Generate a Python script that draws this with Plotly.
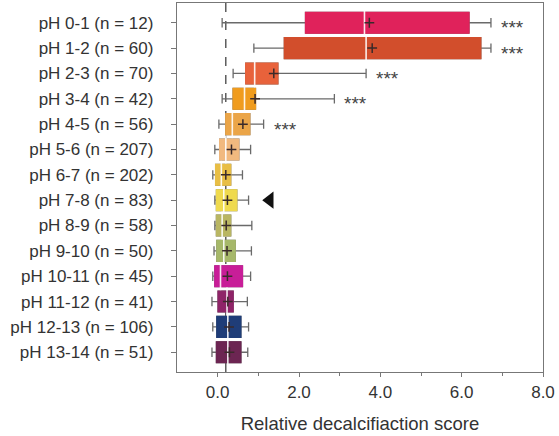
import plotly.graph_objects as go

# Box statistics per pH class (relative decalcification score)
labels = ["pH 0-1 (n = 12)", "pH 1-2 (n = 60)", "pH 2-3 (n = 70)", "pH 3-4 (n = 42)",
          "pH 4-5 (n = 56)", "pH 5-6 (n = 207)", "pH 6-7 (n = 202)", "pH 7-8 (n = 83)",
          "pH 8-9 (n = 58)", "pH 9-10 (n = 50)", "pH 10-11 (n = 45)", "pH 11-12 (n = 41)",
          "pH 12-13 (n = 106)", "pH 13-14 (n = 51)"]
lower = [0.11, 0.89, 0.38, 0.11, 0.03, -0.07, -0.12, -0.07, -0.07, -0.09, -0.12, -0.14, -0.12, -0.14]
q1 = [2.16, 1.64, 0.69, 0.38, 0.20, 0.05, -0.05, -0.03, -0.03, -0.02, -0.07, 0.01, -0.02, -0.03]
median = [3.61, 3.65, 0.91, 0.66, 0.36, 0.20, 0.09, 0.15, 0.11, 0.15, 0.07, 0.23, 0.25, 0.25]
q3 = [6.18, 6.47, 1.48, 0.93, 0.79, 0.52, 0.32, 0.47, 0.32, 0.43, 0.61, 0.38, 0.57, 0.57]
upper = [6.72, 6.72, 3.65, 2.87, 1.13, 0.81, 0.61, 0.76, 0.84, 0.83, 0.81, 0.73, 0.76, 0.74]
mean = [3.73, 3.80, 1.38, 0.92, 0.62, 0.34, 0.20, 0.24, 0.21, 0.23, 0.24, 0.25, 0.28, 0.29]
significance = ["***", "***", "***", "***", "***", "", "", "", "", "", "", "", "", ""]
colors = ["#E0225B", "#D24E2C", "#E8623B", "#F09C1E", "#EBA548", "#F1B97F", "#E8BE45",
          "#EFDA4E", "#B9B663", "#A6B86A", "#C81E98", "#8F2468", "#1F3D78", "#6C2552"]
reference_score = 0.20
highlight_label = "pH 7-8 (n = 83)"
highlight_x = 1.28

box_width = 0.82
whisker_color = "#6a6a6a"
text_color = "#333333"
font_family = "Liberation Sans, Arial, sans-serif"

fig = go.Figure()

# whiskers and caps (gray), then the coloured box body drawn on top
for i, lab in enumerate(labels):
    fig.add_trace(go.Box(
        y=[lab], q1=[q1[i]], median=[median[i]], q3=[q3[i]],
        lowerfence=[lower[i]], upperfence=[upper[i]],
        orientation="h", width=box_width, whiskerwidth=0.45,
        line=dict(color=whisker_color, width=1.3), fillcolor=colors[i],
        showlegend=False, hoverinfo="skip"))
for i, lab in enumerate(labels):
    fig.add_trace(go.Box(
        y=[lab], q1=[q1[i]], median=[median[i]], q3=[q3[i]],
        lowerfence=[q1[i]], upperfence=[q3[i]],
        orientation="h", width=box_width, whiskerwidth=0,
        line=dict(color=colors[i], width=1.3), fillcolor=colors[i],
        showlegend=False, hoverinfo="skip"))

# white median lines
fig.add_trace(go.Scatter(
    x=median, y=labels, mode="markers", showlegend=False, hoverinfo="skip",
    marker=dict(symbol="line-ns", size=20, line=dict(color="rgba(255,255,255,0.9)", width=1.6))))

# mean markers
fig.add_trace(go.Scatter(
    x=mean, y=labels, mode="markers", showlegend=False, hoverinfo="skip",
    marker=dict(symbol="cross-thin", size=7, line=dict(color="#3a2a2a", width=1.5))))

# arrow pointing at the highlighted class
fig.add_trace(go.Scatter(
    x=[highlight_x], y=[highlight_label], mode="markers", showlegend=False, hoverinfo="skip",
    marker=dict(symbol="triangle-left", size=15, color="#111111")))

# significance stars
for i, lab in enumerate(labels):
    if significance[i]:
        fig.add_annotation(x=upper[i], y=lab, text=significance[i], showarrow=False,
                           xanchor="left", yanchor="middle", xshift=8, yshift=-5,
                           font=dict(size=19, color="#444444", family=font_family))

# dashed reference line
fig.add_shape(type="line", xref="x", yref="paper", x0=reference_score, x1=reference_score,
              y0=0, y1=1, line=dict(color="#444444", width=1.3, dash="dash"), layer="below")

fig.update_layout(
    width=559, height=436,
    margin=dict(l=177, r=16, t=3, b=64),
    paper_bgcolor="white", plot_bgcolor="white",
    font=dict(family=font_family, color=text_color),
    boxmode="overlay",
)
fig.update_xaxes(
    range=[-1, 8], tickvals=[0, 2, 4, 6, 8], ticktext=["0.0", "2.0", "4.0", "6.0", "8.0"],
    ticks="outside", ticklen=4, tickcolor="#777777", tickwidth=1.3,
    minor=dict(tickvals=[1, 3, 5, 7], ticks="outside", ticklen=3, tickcolor="#777777"),
    showline=True, linecolor="#777777", linewidth=1.3, mirror=True,
    showgrid=False, zeroline=False,
    tickfont=dict(size=17, color=text_color),
    title=dict(text="Relative decalcifiaction score", font=dict(size=18.5, color=text_color), standoff=16),
)
fig.update_yaxes(
    type="category", categoryorder="array", categoryarray=labels,
    range=[13.78, -0.78],
    ticks="outside", ticklen=5, tickcolor="#777777", tickwidth=1.3,
    showline=True, linecolor="#777777", linewidth=1.3, mirror=True,
    showgrid=False, zeroline=False, ticklabelstandoff=14,
    tickfont=dict(size=17, color=text_color),
)

fig.write_html("out.html")
